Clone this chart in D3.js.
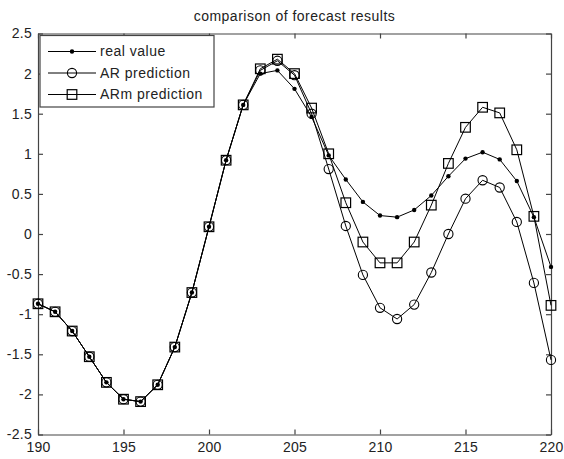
<!DOCTYPE html>
<html>
<head>
<meta charset="utf-8">
<script src="https://cdn.jsdelivr.net/npm/d3@7"></script>
<style>
  body { margin: 0; background: #fff; }
  svg text { font-family: "Liberation Sans", Arial, sans-serif; fill: #222; }
</style>
</head>
<body>
<div id="chart"></div>
<script>
// data
const xs = d3.range(190, 221);
const realValue = [-0.87, -0.97, -1.21, -1.53, -1.85, -2.06, -2.09, -1.88, -1.41, -0.73,
  0.09, 0.92, 1.61, 2.0, 2.04, 1.81, 1.46, 0.98, 0.68, 0.4,
  0.23, 0.21, 0.3, 0.48, 0.72, 0.94, 1.02, 0.93, 0.66, 0.21, -0.41];
const arPrediction = [-0.87, -0.97, -1.21, -1.53, -1.85, -2.06, -2.09, -1.88, -1.41, -0.73,
  0.09, 0.92, 1.61, 2.04, 2.16, 1.98, 1.5, 0.81, 0.1, -0.51,
  -0.92, -1.06, -0.88, -0.48, 0.0, 0.44, 0.67, 0.58, 0.15, -0.61, -1.57];
const armPrediction = [-0.87, -0.97, -1.21, -1.53, -1.85, -2.06, -2.09, -1.88, -1.41, -0.73,
  0.09, 0.92, 1.61, 2.06, 2.18, 2.0, 1.57, 1.0, 0.39, -0.1,
  -0.36, -0.36, -0.1, 0.36, 0.88, 1.33, 1.58, 1.51, 1.05, 0.22, -0.89];
const xTicks = [190, 195, 200, 205, 210, 215, 220];
const yTicks = [-2.5, -2, -1.5, -1, -0.5, 0, 0.5, 1, 1.5, 2, 2.5];
const seriesNames = ['real value', 'AR prediction', 'ARm prediction'];

const W = 564, H = 459;
const margin = { top: 33.5, right: 13, bottom: 24.5, left: 38 };

const svg = d3.select('#chart').append('svg')
  .attr('width', W)
  .attr('height', H);

const x = d3.scaleLinear().domain([190, 220]).range([margin.left, W - margin.right]);
const y = d3.scaleLinear().domain([-2.5, 2.5]).range([H - margin.bottom, margin.top]);

// title
svg.append('text')
  .attr('x', (margin.left + W - margin.right) / 2)
  .attr('y', 21)
  .attr('text-anchor', 'middle')
  .style('font-size', '14px')
  .style('letter-spacing', '0.5px')
  .text('comparison of forecast results');

// axes, ticks pointing inward on all sides
const axisColor = '#444';
const bottomAxis = svg.append('g')
  .attr('transform', `translate(0,${H - margin.bottom})`)
  .call(d3.axisBottom(x).tickValues(xTicks).tickSizeInner(-5).tickSizeOuter(0).tickPadding(7));
const topAxis = svg.append('g')
  .attr('transform', `translate(0,${margin.top})`)
  .call(d3.axisTop(x).tickValues(xTicks).tickSizeInner(-5).tickSizeOuter(0).tickFormat(''));
const leftAxis = svg.append('g')
  .attr('transform', `translate(${margin.left},0)`)
  .call(d3.axisLeft(y).tickValues(yTicks).tickSizeInner(-5).tickSizeOuter(0).tickPadding(6)
    .tickFormat(d => String(d)));
const rightAxis = svg.append('g')
  .attr('transform', `translate(${W - margin.right},0)`)
  .call(d3.axisRight(y).tickValues(yTicks).tickSizeInner(-5).tickSizeOuter(0).tickFormat(''));

[bottomAxis, topAxis, leftAxis, rightAxis].forEach(ax => {
  ax.selectAll('path, line').attr('stroke', axisColor).attr('stroke-width', 1.2);
  ax.selectAll('text')
    .style('font-size', '14px')
    .style('letter-spacing', '0.3px')
    .style('font-family', '"Liberation Sans", Arial, sans-serif')
    .attr('fill', '#222');
});
bottomAxis.selectAll('text').attr('dy', '0.75em');

const line = d3.line()
  .x((d, i) => x(xs[i]))
  .y(d => y(d));

const plot = svg.append('g');

function drawMarker(g, type, cx, cy) {
  if (type === 'dot') {
    g.append('circle').attr('cx', cx).attr('cy', cy).attr('r', 2.2).attr('fill', '#000');
  } else if (type === 'circle') {
    g.append('circle').attr('cx', cx).attr('cy', cy).attr('r', 4.6)
      .attr('fill', 'none').attr('stroke', '#000').attr('stroke-width', 1.1);
  } else {
    g.append('rect').attr('x', cx - 4.8).attr('y', cy - 4.8).attr('width', 9.6).attr('height', 9.6)
      .attr('fill', 'none').attr('stroke', '#000').attr('stroke-width', 1.2);
  }
}

const series = [
  { name: seriesNames[0], values: realValue, marker: 'dot' },
  { name: seriesNames[1], values: arPrediction, marker: 'circle' },
  { name: seriesNames[2], values: armPrediction, marker: 'square' }
];

series.forEach(s => {
  plot.append('path')
    .datum(s.values)
    .attr('fill', 'none')
    .attr('stroke', '#000')
    .attr('stroke-width', 1)
    .attr('d', line);
  s.values.forEach((v, i) => drawMarker(plot, s.marker, x(xs[i]), y(v)));
});

// legend
const legend = svg.append('g');
legend.append('rect')
  .attr('x', 40).attr('y', 35.5)
  .attr('width', 174).attr('height', 71.5)
  .attr('fill', '#fff')
  .attr('stroke', axisColor)
  .attr('stroke-width', 1.2);

series.forEach((s, i) => {
  const ly = 51.5 + i * 21.5;
  legend.append('line')
    .attr('x1', 48).attr('x2', 96)
    .attr('y1', ly).attr('y2', ly)
    .attr('stroke', '#000');
  drawMarker(legend, s.marker, 72, ly);
  legend.append('text')
    .attr('x', 100).attr('y', ly)
    .attr('dy', '0.35em')
    .style('font-size', '14px')
    .style('letter-spacing', '0.5px')
    .text(s.name);
});
</script>
</body>
</html>
